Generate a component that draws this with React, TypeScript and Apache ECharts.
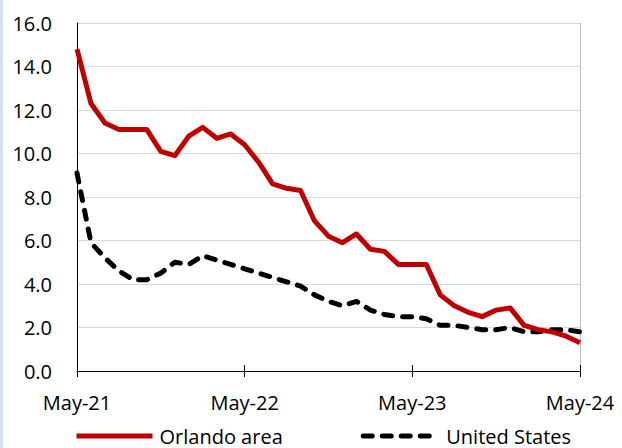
import React, { useEffect, useRef } from "react";
import * as echarts from "echarts";

const months: string[] = [
  "May-21", "Jun-21", "Jul-21", "Aug-21", "Sep-21", "Oct-21", "Nov-21", "Dec-21",
  "Jan-22", "Feb-22", "Mar-22", "Apr-22", "May-22", "Jun-22", "Jul-22", "Aug-22",
  "Sep-22", "Oct-22", "Nov-22", "Dec-22", "Jan-23", "Feb-23", "Mar-23", "Apr-23",
  "May-23", "Jun-23", "Jul-23", "Aug-23", "Sep-23", "Oct-23", "Nov-23", "Dec-23",
  "Jan-24", "Feb-24", "Mar-24", "Apr-24", "May-24",
];

const orlando: number[] = [
  14.8, 12.3, 11.4, 11.1, 11.1, 11.1, 10.1, 9.9, 10.8, 11.2, 10.7, 10.9,
  10.4, 9.6, 8.6, 8.4, 8.3, 6.9, 6.2, 5.9, 6.3, 5.6, 5.5, 4.9,
  4.9, 4.9, 3.5, 3.0, 2.7, 2.5, 2.8, 2.9, 2.1, 1.9, 1.8, 1.6, 1.3,
];

const unitedStates: number[] = [
  9.1, 5.9, 5.2, 4.6, 4.2, 4.2, 4.5, 5.0, 4.9, 5.3, 5.1, 4.9,
  4.7, 4.5, 4.3, 4.1, 3.9, 3.5, 3.2, 3.0, 3.2, 2.8, 2.6, 2.5,
  2.5, 2.4, 2.1, 2.1, 2.0, 1.9, 1.9, 2.0, 1.8, 1.8, 1.9, 1.9, 1.8,
];

const seriesNames: string[] = ["Orlando area", "United States"];

const FONT = "'Open Sans', sans-serif";

export default function App() {
  const ref = useRef<HTMLDivElement>(null);

  useEffect(() => {
    if (!ref.current) return;
    const chart = echarts.init(ref.current, undefined, { renderer: "svg" });
    chart.setOption({
      animation: false,
      backgroundColor: "#ffffff",
      textStyle: { fontFamily: FONT },
      grid: { left: 77, right: 42, top: 23, bottom: 77, containLabel: false },
      legend: {
        data: seriesNames,
        left: 74,
        top: 426,
        padding: 0,
        itemWidth: 76,
        itemHeight: 10,
        itemGap: 78,
        itemStyle: { opacity: 0 },
        lineStyle: { width: 5 },
        textStyle: { fontFamily: FONT, fontSize: 20, color: "#000", padding: [0, 0, 0, 2] },
      },
      xAxis: [
        {
          type: "category",
          data: months,
          boundaryGap: false,
          axisLine: { show: true, lineStyle: { color: "#000", width: 1 } },
          axisTick: { show: true, interval: 11, length: 6, lineStyle: { color: "#000" } },
          axisLabel: {
            interval: 11,
            margin: 21,
            fontFamily: FONT,
            fontSize: 20,
            color: "#000",
          },
          splitLine: { show: false },
        },
        {
          type: "category",
          data: months,
          boundaryGap: false,
          position: "bottom",
          axisLine: { show: false },
          axisTick: { show: true, inside: true, interval: 11, length: 6, lineStyle: { color: "#000" } },
          axisLabel: { show: false },
          splitLine: { show: false },
        },
      ],
      yAxis: [
        {
          type: "value",
          min: 0,
          max: 16,
          interval: 2,
          axisLine: { show: true, lineStyle: { color: "#000", width: 1 } },
          axisTick: { show: false },
          axisLabel: {
            formatter: (v: number) => v.toFixed(1),
            margin: 25,
            fontFamily: FONT,
            fontSize: 20,
            color: "#000",
          },
          splitLine: { show: true, lineStyle: { color: "#d9d9d9", width: 1 } },
        },
        {
          type: "value",
          min: 0,
          max: 16,
          interval: 2,
          position: "right",
          axisLine: { show: true, lineStyle: { color: "#bfbfbf", width: 1 } },
          axisTick: { show: false },
          axisLabel: { show: false },
          splitLine: { show: false },
        },
      ],
      series: [
        {
          name: seriesNames[0],
          type: "line",
          data: orlando,
          symbol: "none",
          color: "#C00000",
          lineStyle: { color: "#C00000", width: 5, join: "round" },
          z: 3,
        },
        {
          name: seriesNames[1],
          type: "line",
          data: unitedStates,
          symbol: "none",
          color: "#000000",
          lineStyle: { color: "#000000", width: 5, type: [9, 10], cap: "round", join: "round" },
          z: 2,
        },
      ],
    });
    return () => chart.dispose();
  }, []);

  return (
    <div style={{ position: "fixed", left: 0, top: 0, width: 622, height: 448, background: "#fff" }}>
      <div ref={ref} style={{ position: "absolute", left: 0, top: 0, width: 622, height: 448 }} />
      <div style={{ position: "absolute", left: 0, top: 0, width: 3, height: 448, background: "#d3e0f3" }} />
    </div>
  );
}
